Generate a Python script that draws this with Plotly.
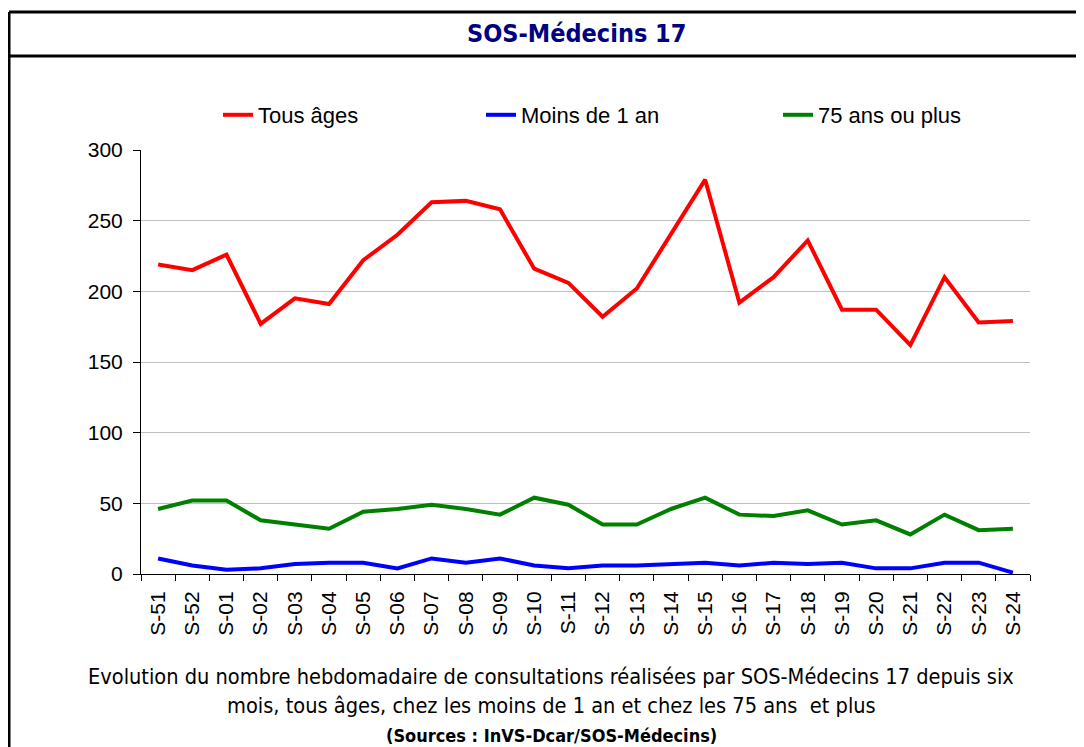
import plotly.graph_objects as go

# semaines (S-51 de l'annee precedente jusqu'a S-24)
semaines = ['S-51', 'S-52', 'S-01', 'S-02', 'S-03', 'S-04', 'S-05', 'S-06', 'S-07',
            'S-08', 'S-09', 'S-10', 'S-11', 'S-12', 'S-13', 'S-14', 'S-15', 'S-16',
            'S-17', 'S-18', 'S-19', 'S-20', 'S-21', 'S-22', 'S-23', 'S-24']

# nombre de consultations par semaine
tous_ages = [219, 215, 226, 177, 195, 191, 222, 240, 263, 264, 258, 216, 206,
             182, 202, 240, 279, 192, 210, 236, 187, 187, 162, 210, 178, 179]
moins_1_an = [11, 6, 3, 4, 7, 8, 8, 4, 11, 8, 11, 6, 4,
              6, 6, 7, 8, 6, 8, 7, 8, 4, 4, 8, 8, 1]
plus_75_ans = [46, 52, 52, 38, 35, 32, 44, 46, 49, 46, 42, 54, 49,
               35, 35, 46, 54, 42, 41, 45, 35, 38, 28, 42, 31, 32]

# la page html decale la figure de 8 px (marge du body)
DEC = 8
W, H = 1084 - DEC, 747 - DEC
# zone de trace en pixels de la page
L, R, T, B = 141, 1030, 150, 574


def px_x(p):
    return (p - L) / (R - L)


def px_y(p):
    return (B - p) / (B - T)


fig = go.Figure()

fig.add_trace(go.Scatter(x=semaines, y=tous_ages, name='Tous âges', mode='lines',
                         line=dict(color='#FF0000', width=4), legend='legend'))
fig.add_trace(go.Scatter(x=semaines, y=moins_1_an, name='Moins de 1 an', mode='lines',
                         line=dict(color='#0000FF', width=4), legend='legend2'))
fig.add_trace(go.Scatter(x=semaines, y=plus_75_ans, name='75 ans ou plus', mode='lines',
                         line=dict(color='#008000', width=4), legend='legend3'))

police = 'Liberation Sans, Arial, sans-serif'
police_etroite = 'DejaVu Sans Condensed, Liberation Sans Narrow, sans-serif'
leg = dict(orientation='h', yanchor='middle', y=px_y(115), xanchor='left',
           font=dict(family=police, size=22, color='black'), bgcolor='rgba(0,0,0,0)')

fig.update_layout(
    width=W, height=H,
    margin=dict(l=L - DEC, r=W + DEC - R, t=T - DEC, b=H + DEC - B),
    paper_bgcolor='white', plot_bgcolor='white',
    font=dict(family=police, size=21, color='black'),
    showlegend=True,
    legend=dict(leg, x=px_x(218)),
    legend2=dict(leg, x=px_x(481)),
    legend3=dict(leg, x=px_x(778)),
    xaxis=dict(type='category', range=[-0.5, len(semaines) - 0.5], tickangle=-90,
               tickson='boundaries', ticks='outside', ticklen=6, tickcolor='black',
               showline=True, linecolor='black', linewidth=1, showgrid=False,
               ticklabelstandoff=8, tickfont=dict(size=21)),
    yaxis=dict(range=[0, 300], dtick=50, ticks='outside', ticklen=7, tickcolor='black',
               showline=True, linecolor='black', linewidth=1,
               showgrid=True, gridcolor='#C0C0C0', gridwidth=1, zeroline=False,
               ticklabelstandoff=6, tickfont=dict(size=21)),
)

# cadre et bandeau de titre
cadre = dict(type='line', xref='paper', yref='paper', line=dict(color='black', width=3))
fig.add_shape(cadre, x0=px_x(9), x1=px_x(9), y0=px_y(12), y1=px_y(760))
fig.add_shape(cadre, x0=px_x(1082), x1=px_x(1082), y0=px_y(12), y1=px_y(760))
fig.add_shape(cadre, x0=px_x(9), x1=px_x(1084), y0=px_y(12), y1=px_y(12))
fig.add_shape(cadre, x0=px_x(9), x1=px_x(1084), y0=px_y(56), y1=px_y(56))

fig.add_annotation(text='<b>SOS-Médecins 17</b>', xref='paper', yref='paper',
                   x=px_x(576), y=px_y(34), xanchor='center', yanchor='middle',
                   showarrow=False,
                   font=dict(family=police_etroite, size=25, color='#000080'))

legende = ['Evolution du nombre hebdomadaire de consultations réalisées par SOS-Médecins 17 depuis six',
           'mois, tous âges, chez les moins de 1 an et chez les 75 ans  et plus']
for texte, yp in zip(legende, [676, 705]):
    fig.add_annotation(text=texte, xref='paper', yref='paper', x=px_x(551), y=px_y(yp),
                       xanchor='center', yanchor='middle', showarrow=False,
                       font=dict(family=police_etroite, size=21.6, color='black'))
fig.add_annotation(text='<b>(Sources : InVS-Dcar/SOS-Médecins)</b>', xref='paper', yref='paper',
                   x=px_x(551), y=px_y(735), xanchor='center', yanchor='middle',
                   showarrow=False,
                   font=dict(family=police_etroite, size=18, color='black'))

fig.write_html('out.html')
